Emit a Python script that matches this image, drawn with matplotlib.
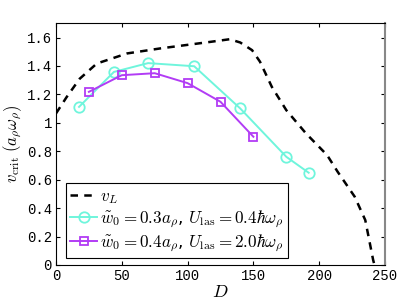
import matplotlib
matplotlib.use("Agg")
import matplotlib.pyplot as plt

plt.rcParams['mathtext.fontset'] = 'cm'

# critical velocity curve v_L
vL_D = [0, 8, 18, 31, 54, 79, 117, 132, 140, 149, 155, 164, 175, 190, 206, 214, 227, 235, 241, 242]
vL_v = [1.066, 1.18, 1.31, 1.417, 1.488, 1.523, 1.569, 1.588, 1.565, 1.511, 1.43, 1.253, 1.089,
        0.925, 0.773, 0.656, 0.48, 0.316, 0.035, 0.0]

# w0 = 0.3, U = 0.4
D1 = [17.5, 44, 70, 105, 140, 175, 192]
v1 = [1.112, 1.358, 1.42, 1.398, 1.101, 0.761, 0.649]

# w0 = 0.4, U = 2.0
D2 = [25, 50, 75, 100, 125, 150]
v2 = [1.218, 1.335, 1.349, 1.279, 1.148, 0.902]

fig = plt.figure(figsize=(4.15, 3.08), dpi=100)
ax = fig.add_axes([56/415, 43/308, 329/415, 241.7/308])

ax.plot(vL_D, vL_v, '--', color='black', lw=1.8, dashes=(3, 2.5), label=r'$v_L$')
ax.plot(D1, v1, '-o', color='#6ff5dc', lw=1.4, ms=7.5, mfc='none', mew=1.3,
        label=r'$\tilde{w}_0=0.3a_\rho$, $U_{\rm las}=0.4\hbar\omega_\rho$')
ax.plot(D2, v2, '-s', color='#b23cf5', lw=1.4, ms=6, mfc='none', mew=1.3,
        label=r'$\tilde{w}_0=0.4a_\rho$, $U_{\rm las}=2.0\hbar\omega_\rho$')

ax.set_xlim(0, 250)
ax.set_ylim(0, 1.7)
ax.set_xticks([0, 50, 100, 150, 200, 250])
ax.set_yticks([0, 0.2, 0.4, 0.6, 0.8, 1, 1.2, 1.4, 1.6])
ax.set_yticklabels(['0', '0.2', '0.4', '0.6', '0.8', '1', '1.2', '1.4', '1.6'])
for lab in ax.get_xticklabels() + ax.get_yticklabels():
    lab.set_family('Liberation Mono')
    lab.set_fontsize(10)
ax.tick_params(direction='in', length=3, top=True, right=True, pad=3)
ax.spines['right'].set_color('#888888')
ax.spines['right'].set_linewidth(1.5)

ax.set_xlabel(r'$D$', fontsize=13, labelpad=0)
ax.set_ylabel(r'$v_{\rm crit}\ (a_\rho\omega_\rho)$', fontsize=12, labelpad=2)

leg = ax.legend(loc='lower left', bbox_to_anchor=(0.03, 0.028), fontsize=12.3,
                handlelength=1.6, handletextpad=0.15, borderaxespad=0, labelspacing=0.15,
                borderpad=0.25, fancybox=False, framealpha=1, edgecolor='black')
leg.get_frame().set_linewidth(0.8)

fig.savefig('out.png', dpi=100)
